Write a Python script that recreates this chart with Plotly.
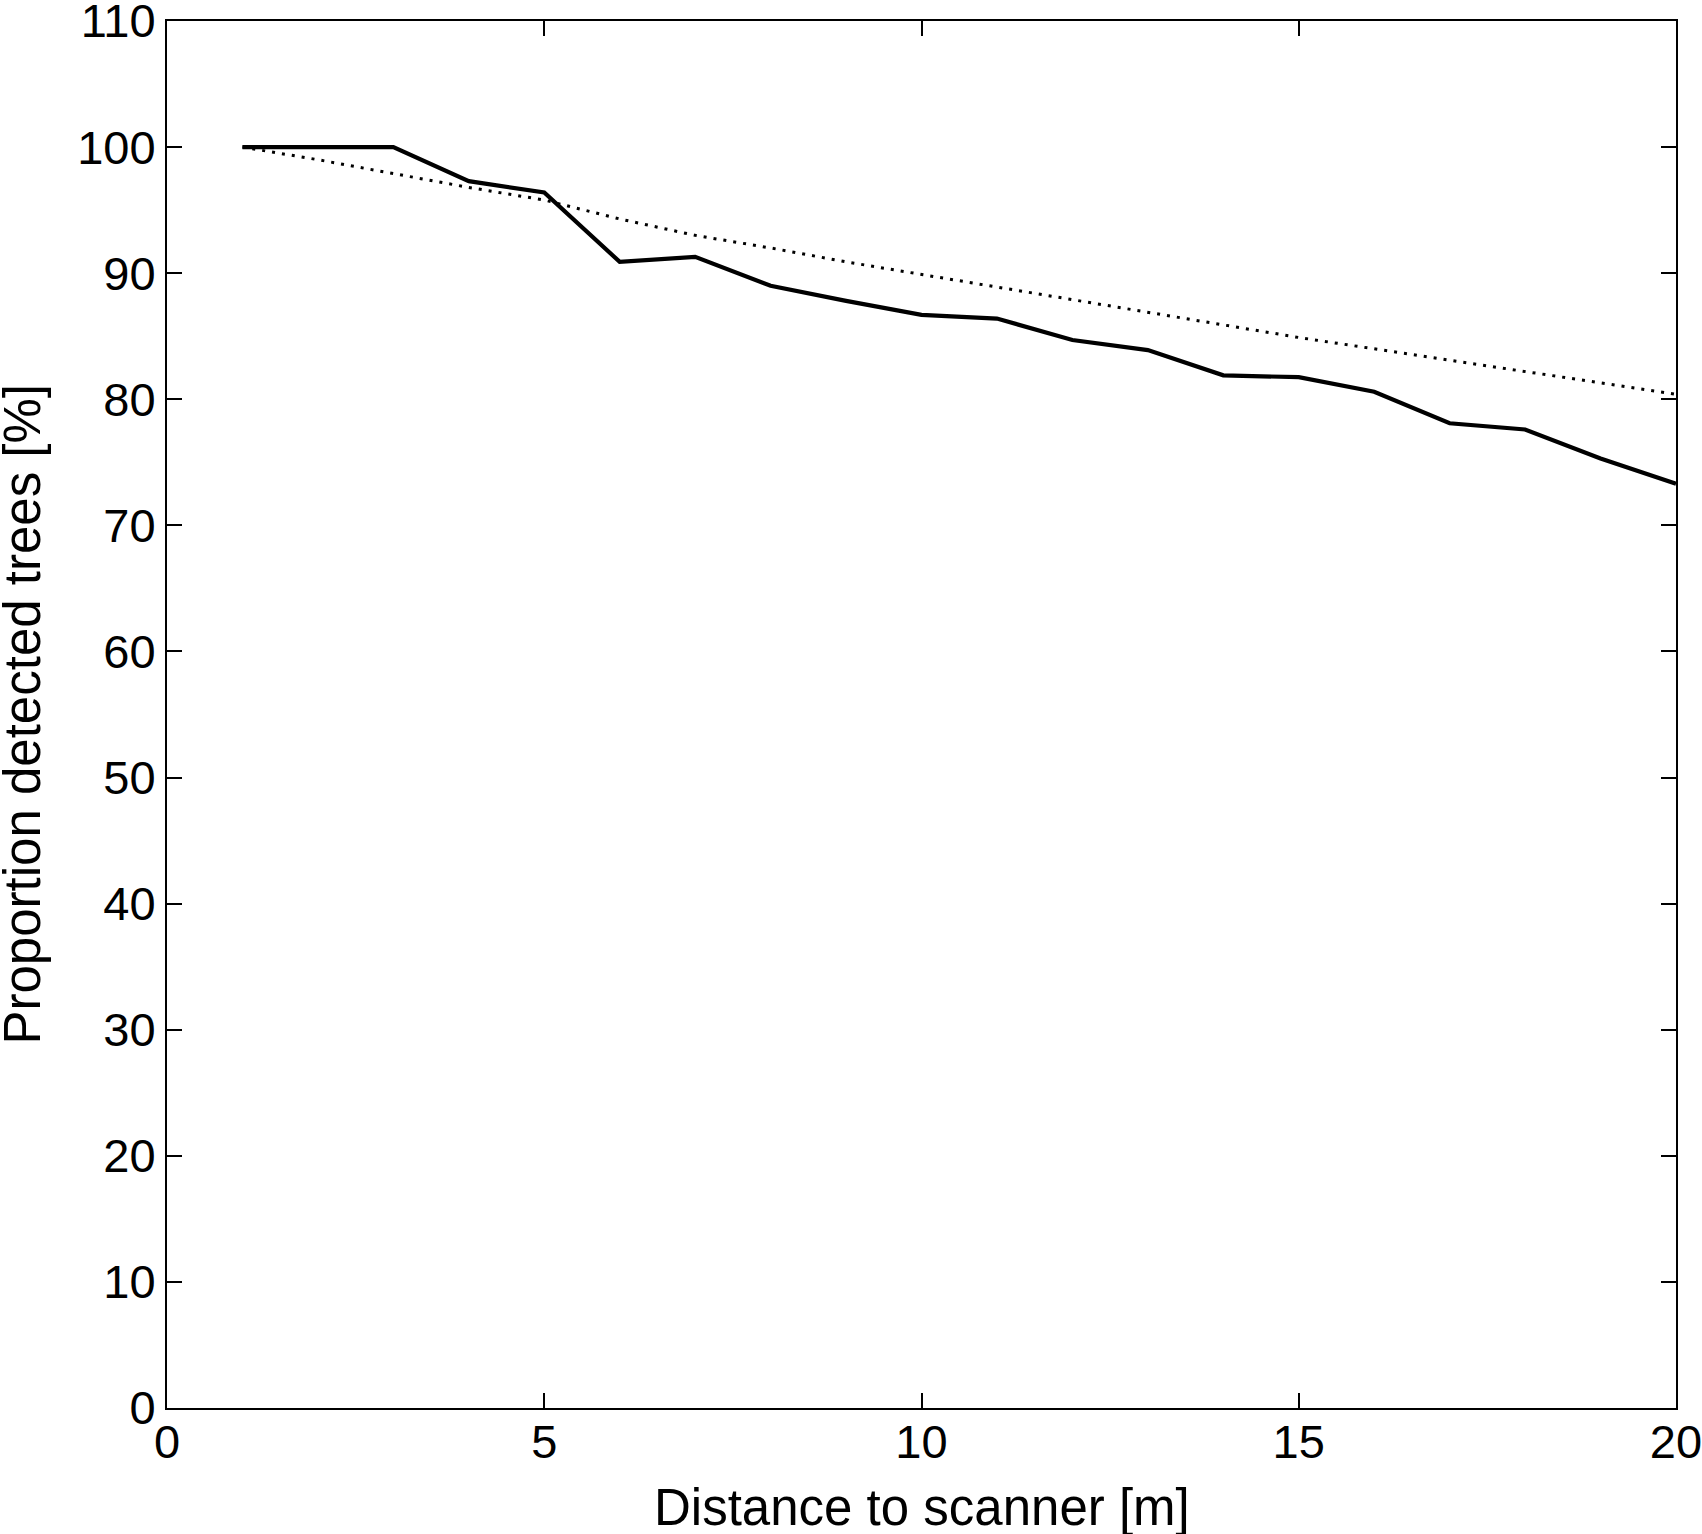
import plotly.graph_objects as go

distance = [1, 2, 3, 4, 5, 6, 7, 8, 9, 10, 11, 12, 13, 14, 15, 16, 17, 18, 19, 20]
detected = [100, 100, 100, 97.3, 96.4, 90.9, 91.3, 89.0, 87.8, 86.7, 86.4, 84.7,
            83.9, 81.9, 81.75, 80.6, 78.1, 77.6, 75.3, 73.3]
fitted = [100, 99.0, 97.9, 96.8, 95.8, 94.3, 93.0, 92.0, 90.9, 89.9, 88.9, 87.9,
          86.9, 85.9, 84.9, 84.0, 83.1, 82.2, 81.3, 80.4]

x_ticks = [0, 5, 10, 15, 20]
y_ticks = [0, 10, 20, 30, 40, 50, 60, 70, 80, 90, 100, 110]

x_title = "Distance to scanner [m]"
y_title = "Proportion detected trees [%]"

FONT = "Liberation Sans, Arial, sans-serif"
TICK_SIZE = 47
TITLE_SIZE = 51

fig = go.Figure()
fig.add_trace(go.Scatter(x=distance, y=fitted, mode="lines",
                         line=dict(color="black", width=3, dash="3px,7px"),
                         showlegend=False))
fig.add_trace(go.Scatter(x=distance, y=detected, mode="lines",
                         line=dict(color="black", width=4.2),
                         showlegend=False))

axis_common = dict(showline=True, linecolor="black", linewidth=2, mirror="ticks",
                   ticks="inside", ticklen=15, tickwidth=2, tickcolor="black",
                   showgrid=False, zeroline=False, ticklabeloverflow="allow",
                   tickfont=dict(family=FONT, size=TICK_SIZE, color="black"))

fig.update_xaxes(range=[0, 20], tickvals=x_ticks, ticktext=[str(v) for v in x_ticks],
                 ticklabelstandoff=-8, **axis_common)
fig.update_yaxes(range=[0, 110], tickvals=y_ticks, ticktext=[str(v) for v in y_ticks],
                 **axis_common)

fig.add_annotation(text=x_title, xref="paper", yref="paper", x=0.5, y=0,
                   xanchor="center", yanchor="middle", yshift=-99, showarrow=False,
                   borderpad=0,
                   font=dict(family=FONT, size=TITLE_SIZE, color="black"))
fig.add_annotation(text=y_title, xref="paper", yref="paper", x=0, y=0.5,
                   xanchor="center", yanchor="middle", xshift=-145, textangle=-90,
                   showarrow=False, borderpad=0,
                   font=dict(family=FONT, size=TITLE_SIZE, color="black"))

fig.update_layout(width=1702, height=1534,
                  margin=dict(l=167, r=26, t=21, b=126, autoexpand=False),
                  plot_bgcolor="white", paper_bgcolor="white")

fig.write_html("out.html", config={"displayModeBar": False},
               post_script="document.body.style.margin='0';document.body.style.overflow='hidden';")
